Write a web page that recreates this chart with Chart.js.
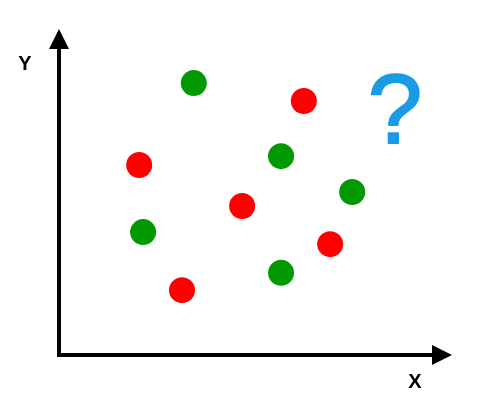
<!DOCTYPE html>
<html>
<head>
<meta charset="utf-8">
<script src="https://cdn.jsdelivr.net/npm/chart.js@4"></script>
<style>
  html, body { margin: 0; padding: 0; background: #fff; }
  #wrap { width: 485px; height: 420px; }
</style>
</head>
<body>
<div id="wrap"><canvas id="chart"></canvas></div>
<script>
// values (arbitrary units, 0..10 on both axes)
const greenX = [3.43, 5.65, 7.46, 2.14, 5.65];
const greenY = [8.34, 6.10, 5.00, 3.77, 2.52];
const redX = [6.23, 2.04, 4.66, 6.90, 3.13];
const redY = [7.79, 5.83, 4.57, 3.40, 1.99];
const axisMax = 10;
// unknown point marker
const questionPos = { x: 8.55, y: 6.50 };

function toPoints(xs, ys) {
  return xs.map((x, i) => ({ x: x, y: ys[i] }));
}

// draws the arrow axes, axis letters and the question mark
const axesPlugin = {
  id: "arrowAxes",
  afterDatasetsDraw(chart) {
    const ctx = chart.ctx;
    const xs = chart.scales.x, ys = chart.scales.y;
    const x0 = xs.getPixelForValue(0), y0 = ys.getPixelForValue(0);
    const x1 = xs.getPixelForValue(axisMax), y1 = ys.getPixelForValue(axisMax);
    ctx.save();
    ctx.strokeStyle = "#000";
    ctx.fillStyle = "#000";
    ctx.lineWidth = 4;
    ctx.lineCap = "butt";
    ctx.beginPath();
    ctx.moveTo(x0, y0 + 2);
    ctx.lineTo(x0, y1 + 14);
    ctx.moveTo(x0 - 2, y0);
    ctx.lineTo(x1 - 14, y0);
    ctx.stroke();
    // arrow heads
    ctx.beginPath();
    ctx.moveTo(x0, y1);
    ctx.lineTo(x0 - 10, y1 + 20);
    ctx.lineTo(x0 + 10, y1 + 20);
    ctx.closePath();
    ctx.fill();
    ctx.beginPath();
    ctx.moveTo(x1, y0);
    ctx.lineTo(x1 - 20, y0 - 10);
    ctx.lineTo(x1 - 20, y0 + 10);
    ctx.closePath();
    ctx.fill();
    // axis letters
    ctx.font = "bold 20px 'Liberation Sans', Arial, sans-serif";
    ctx.textAlign = "center";
    ctx.textBaseline = "middle";
    ctx.fillText("Y", x0 - 34, y1 + 35);
    ctx.fillText("X", x1 - 37, y0 + 27);
    // question mark, slightly heavier than regular weight
    ctx.fillStyle = "#1a9be6";
    ctx.strokeStyle = "#1a9be6";
    ctx.lineWidth = 2;
    ctx.lineJoin = "round";
    ctx.font = "98px 'Liberation Sans', Arial, sans-serif";
    ctx.textBaseline = "alphabetic";
    const qx = xs.getPixelForValue(questionPos.x), qy = ys.getPixelForValue(questionPos.y);
    ctx.fillText("?", qx, qy);
    ctx.strokeText("?", qx, qy);
    ctx.restore();
  }
};

new Chart(document.getElementById("chart"), {
  type: "scatter",
  data: {
    datasets: [
      { label: "green", data: toPoints(greenX, greenY), backgroundColor: "#009900", borderWidth: 0, pointRadius: 13, pointHoverRadius: 13 },
      { label: "red", data: toPoints(redX, redY), backgroundColor: "#ff0000", borderWidth: 0, pointRadius: 13, pointHoverRadius: 13 }
    ]
  },
  options: {
    responsive: true,
    maintainAspectRatio: false,
    animation: false,
    clip: false,
    layout: { padding: { left: 59, right: 33, top: 29, bottom: 65 } },
    scales: {
      x: { type: "linear", min: 0, max: axisMax, display: false },
      y: { type: "linear", min: 0, max: axisMax, display: false }
    },
    plugins: { legend: { display: false }, tooltip: { enabled: false } }
  },
  plugins: [axesPlugin]
});
</script>
</body>
</html>
